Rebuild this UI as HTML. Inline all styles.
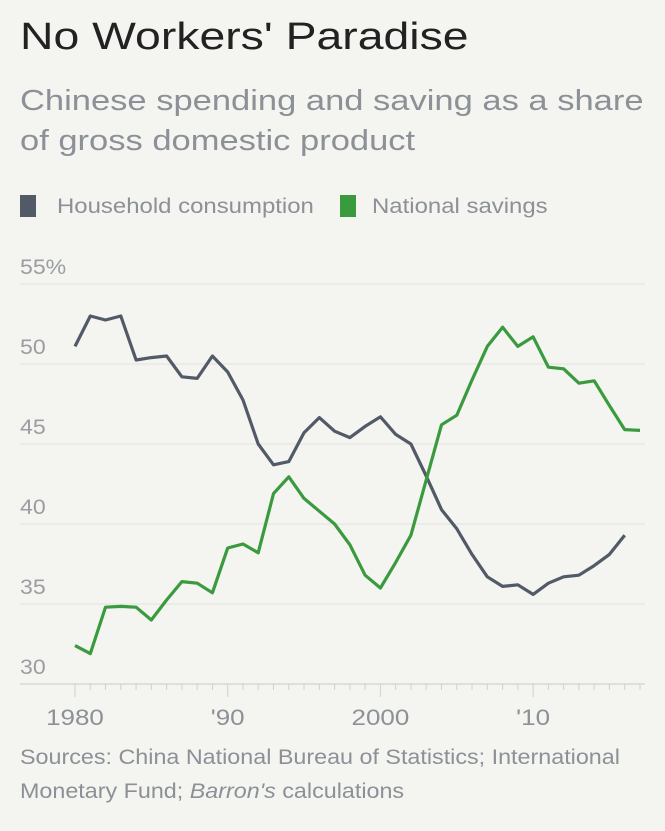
<!DOCTYPE html>
<html><head><meta charset="utf-8"><style>
body{margin:0;background:#f4f4f0;font-family:"Liberation Sans",sans-serif;}
#wrap{position:relative;width:665px;height:831px;overflow:hidden;background:#f4f4f0;}
.t{position:absolute;left:20px;white-space:nowrap;transform-origin:0 0;}
</style></head><body>
<div id="wrap">
<div class="t" style="top:16px;font-size:38px;color:#222;transform:scaleX(1.22);">No Workers' Paradise</div>
<div class="t" style="top:81px;font-size:29px;line-height:40px;color:#8c9097;transform:scaleX(1.19);">Chinese spending and saving as a share<br>of gross domestic product</div>
<div class="t" style="top:195px;font-size:21px;color:#8c9097;"><span style="display:inline-block;width:16px;height:22px;background:#525a68;vertical-align:-4px;margin-right:21px;"></span><span style="display:inline-block;transform:scaleX(1.14);transform-origin:0 0;">Household consumption</span></div>
<div class="t" style="top:195px;left:340px;font-size:21px;color:#8c9097;"><span style="display:inline-block;width:16px;height:22px;background:#3a9a3e;vertical-align:-4px;margin-right:16px;"></span><span style="display:inline-block;transform:scaleX(1.14);transform-origin:0 0;">National savings</span></div>
<svg id="chart" width="665" height="831" style="position:absolute;left:0;top:0"></svg>
<div class="t" style="top:741px;font-size:21px;line-height:34px;color:#8c9097;transform:scaleX(1.11);">Sources: China National Bureau of Statistics; International<br>Monetary Fund; <i>Barron's</i> calculations</div>
</div>
<script>
const years=[];for(let y=1980;y<=2017;y++)years.push(y);
const consumption=[51.1,53.0,52.75,53.0,50.25,50.4,50.5,49.2,49.1,50.5,49.5,47.75,45.0,43.7,43.9,45.7,46.65,45.8,45.4,46.1,46.7,45.6,45.0,43.0,40.9,39.7,38.1,36.7,36.1,36.2,35.6,36.3,36.7,36.8,37.4,38.1,39.3];
const savings=[32.4,31.9,34.8,34.85,34.8,34.0,35.25,36.4,36.3,35.7,38.5,38.75,38.2,41.9,42.95,41.6,40.8,40.0,38.7,36.8,36.0,37.6,39.3,42.75,46.2,46.8,49.0,51.1,52.3,51.1,51.7,49.8,49.7,48.8,48.95,47.4,45.9,45.85];
const yTicks=[30,35,40,45,50,55];
const yTickLabels=["30","35","40","45","50","55%"];
const xTicks=[1980,1990,2000,2010];
const xTickLabels=["1980","'90","2000","'10"];
const NS="http://www.w3.org/2000/svg";
const svg=document.getElementById('chart');
const xS=y=>75+(y-1980)*15.27;
const yS=v=>684-(v-30)*16;
function mk(t,a){const e=document.createElementNS(NS,t);for(const k in a)e.setAttribute(k,a[k]);svg.appendChild(e);return e;}
yTicks.forEach((v,i)=>{
  const l=mk('line',{x1:20,x2:645,y1:yS(v),y2:yS(v),stroke:i==0?'#d8d8d4':'#e2e2de','stroke-width':i==0?1.5:1});
  
  
  const t=mk('text',{x:20,y:yS(v)-10,'font-size':21,fill:'#9a9ea4','font-family':'Liberation Sans, sans-serif',transform:'translate(20,0) scale(1.1,1) translate(-20,0)'});
  t.textContent=yTickLabels[i];
  
  
});
for(let y=1980;y<=2017;y++){
  const major=y%10==0;
  const l=mk('line',{x1:xS(y),x2:xS(y),y1:684,y2:major?697:690,stroke:'#d0d0cc','stroke-width':1});
  
  
}
xTicks.forEach((y,i)=>{
  const cx=xS(y);
  const t=mk('text',{x:cx,y:725,'font-size':22,fill:'#8c9097','text-anchor':'middle','font-family':'Liberation Sans, sans-serif',transform:'translate('+cx+',0) scale(1.18,1) translate('+(-cx)+',0)'});
  t.textContent=xTickLabels[i];
  
  
});
function line(vals,col,name){
  const d=vals.map((v,i)=>(i?'L':'M')+xS(years[i]).toFixed(1)+','+yS(v).toFixed(1)).join('');
  const p=mk('path',{d:d,fill:'none',stroke:col,'stroke-width':3.2,'stroke-linejoin':'round'});
  
  
}
line(consumption,'#525a68','consumption-line');
line(savings,'#3a9a3e','savings-line');
</script>
</body></html>
